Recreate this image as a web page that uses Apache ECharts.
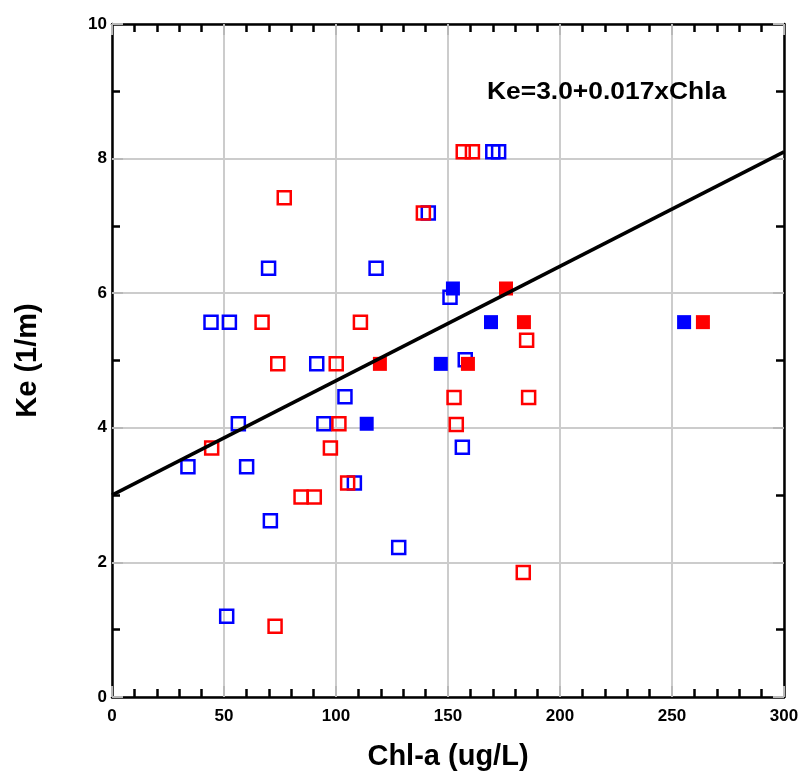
<!DOCTYPE html>
<html>
<head>
<meta charset="utf-8">
<script src="https://cdn.jsdelivr.net/npm/echarts@6/dist/echarts.min.js"></script>
<style>
html,body{margin:0;padding:0;background:#fff;}
#chart{width:801px;height:783px;}
</style>
</head>
<body>
<div id="chart"></div>
<script>
// Open squares (blue)
const blueOpenX = [44.2, 52.4, 69.9, 117.9, 141.2, 91.4, 104.0, 56.4, 94.6, 33.9, 60.1, 108.2, 70.7, 128.0, 51.2, 170.0, 172.6, 150.9, 157.7, 156.4];
const blueOpenY = [5.57, 5.57, 6.37, 6.37, 7.19, 4.95, 4.46, 4.06, 4.06, 3.42, 3.42, 3.18, 2.62, 2.22, 1.20, 8.10, 8.10, 5.94, 5.01, 3.71];
// Open squares (red)
const redOpenX = [76.9, 139.0, 67.0, 110.9, 74.0, 100.1, 101.3, 44.5, 97.5, 105.2, 84.4, 90.3, 72.8, 156.8, 160.9, 185.1, 152.7, 186.0, 153.7, 183.6];
const redOpenY = [7.42, 7.19, 5.57, 5.57, 4.95, 4.95, 4.06, 3.70, 3.70, 3.18, 2.97, 2.97, 1.05, 8.10, 8.10, 5.30, 4.45, 4.45, 4.05, 1.85];
// Filled squares (blue)
const blueFillX = [152.2, 169.2, 146.8, 113.7, 255.4];
const blueFillY = [6.07, 5.57, 4.95, 4.06, 5.57];
// Filled squares (red)
const redFillX = [175.9, 183.9, 119.6, 158.9, 263.8];
const redFillY = [6.07, 5.57, 4.95, 4.95, 5.57];
// Regression line Ke = 3.0 + 0.017 x Chla
const fitIntercept = 3.0;
const fitSlope = 0.017;
const fitX = [0, 300];
const annotationText = 'Ke=3.0+0.017xChla';
const xName = 'Chl-a (ug/L)';
const yName = 'Ke (1/m)';

const pairs = (xs, ys) => xs.map((x, i) => [x, ys[i]]);
const FONT = '"Liberation Sans", Arial, sans-serif';

function axisCommon(showLabel, isX) {
  return {
    type: 'value',
    min: 0,
    max: isX ? 300 : 10,
    interval: isX ? 50 : 2,
    axisLine: { show: true, onZero: false, lineStyle: { color: '#000', width: 2.5 } },
    axisTick: { show: true, inside: true, length: 11, lineStyle: { color: '#b8b8b8', width: 2 } },
    minorTick: { show: true, splitNumber: isX ? 5 : 2, length: 8, lineStyle: { color: '#000', width: 2.5 } },
    minorSplitLine: { show: false },
    axisLabel: { show: showLabel },
    splitLine: { show: false }
  };
}

const chart = echarts.init(document.getElementById('chart'), null, { renderer: 'canvas' });
const option = {
  backgroundColor: '#fff',
  animation: false,
  grid: { left: 112, right: 17, top: 24, bottom: 86, containLabel: false, outerBoundsMode: 'none' },
  xAxis: [
    Object.assign(axisCommon(true, true), {
      position: 'bottom',
      splitLine: { show: true, lineStyle: { color: '#cccccc', width: 2 } },
      axisLabel: { show: true, color: '#000', fontFamily: FONT, fontWeight: 'bold', fontSize: 17, margin: 11 },
      name: xName,
      nameLocation: 'middle',
      nameGap: 45,
      nameTextStyle: { color: '#000', fontFamily: FONT, fontWeight: 'bold', fontSize: 29 }
    }),
    Object.assign(axisCommon(false, true), { position: 'top' })
  ],
  yAxis: [
    Object.assign(axisCommon(true, false), {
      position: 'left',
      splitLine: { show: true, lineStyle: { color: '#cccccc', width: 2 } },
      axisLabel: { show: true, color: '#000', fontFamily: FONT, fontWeight: 'bold', fontSize: 17, margin: 5, padding: [0, 0, 10, 0] },
      name: yName,
      nameLocation: 'middle',
      nameGap: 70,
      nameRotate: 90,
      nameTextStyle: { color: '#000', fontFamily: FONT, fontWeight: 'bold', fontSize: 29 }
    }),
    Object.assign(axisCommon(false, false), { position: 'right' })
  ],
  series: [
    {
      type: 'scatter', name: 'blue open', xAxisIndex: 0, yAxisIndex: 0,
      symbol: 'rect', symbolSize: 13,
      itemStyle: { color: 'rgba(0,0,0,0)', borderColor: '#0000ff', borderWidth: 2.5, opacity: 1 },
      data: pairs(blueOpenX, blueOpenY)
    },
    {
      type: 'scatter', name: 'red open', xAxisIndex: 0, yAxisIndex: 0,
      symbol: 'rect', symbolSize: 13,
      itemStyle: { color: 'rgba(0,0,0,0)', borderColor: '#ff0000', borderWidth: 2.5, opacity: 1 },
      data: pairs(redOpenX, redOpenY)
    },
    {
      type: 'scatter', name: 'blue filled', xAxisIndex: 0, yAxisIndex: 0,
      symbol: 'rect', symbolSize: 14,
      itemStyle: { color: '#0000ff', opacity: 1 },
      data: pairs(blueFillX, blueFillY)
    },
    {
      type: 'scatter', name: 'red filled', xAxisIndex: 0, yAxisIndex: 0,
      symbol: 'rect', symbolSize: 14,
      itemStyle: { color: '#ff0000', opacity: 1 },
      data: pairs(redFillX, redFillY)
    },
    {
      type: 'line', name: 'fit', xAxisIndex: 0, yAxisIndex: 0,
      showSymbol: false, symbol: 'none',
      lineStyle: { color: '#000', width: 3.5 },
      data: fitX.map(x => [x, +(fitIntercept + fitSlope * x).toFixed(3)]),
      z: 5
    }
  ],
  graphic: [
    {
      type: 'text', x: 487, y: 80, scaleX: 1.1, z: 10,
      style: { text: annotationText, fill: '#000', font: 'bold 24px ' + FONT }
    }
  ]
};
chart.setOption(option);
</script>
</body>
</html>
